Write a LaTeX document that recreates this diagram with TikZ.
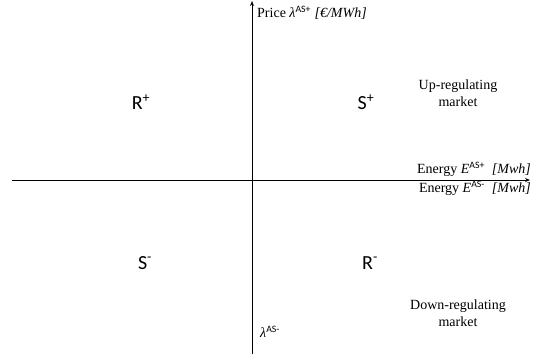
\documentclass[tikz,border=0pt]{standalone}
\usepackage{fontspec}
\setmainfont{Liberation Serif}
\newfontfamily\carl{Carlito}
\usetikzlibrary{arrows.meta}
\tikzset{
  axis/.style={line width=0.9pt,-{Stealth[length=5pt,width=4pt]}},
  quad/.style={font=\carl\fontsize{20}{22}\selectfont,inner sep=0pt},
  lbl/.style={font=\fontsize{14}{16}\selectfont,inner sep=0pt},
  mkt/.style={font=\fontsize{14}{17}\selectfont,align=center,inner sep=0pt}
}
\newcommand{\sps}[1]{\textsuperscript{\carl #1}}
\begin{document}
\begin{tikzpicture}[x=1pt,y=-1pt]
\useasboundingbox (0,0) rectangle (545,360);
\coordinate (vb) at (252,354);
\coordinate (vt) at (252,1);
\coordinate (hl) at (12,180);
\coordinate (hr) at (530,180);
\draw[axis] (vb) -- (vt);
\draw[axis] (hl) -- (hr);
\node[lbl,anchor=west] (price) at (257,13) {Price \textit{λ}\sps{AS+} \textit{[€/MWh]}};
\node[lbl,anchor=east] (eplus) at (531,169) {Energy \textit{E}\sps{AS+} \ \textit{[Mwh]}};
\node[lbl,anchor=east] (eminus) at (531,188) {Energy \textit{E}\sps{AS-} \ \textit{[Mwh]}};
\node[mkt] (up) at (458,93) {Up-regulating\\market};
\node[mkt] (down) at (458,313) {Down-regulating\\market};
\node[quad] (rp) at (141,102) {R\textsuperscript{+}};
\node[quad] (sp) at (366,102) {S\textsuperscript{+}};
\node[quad] (sm) at (145,263) {S\textsuperscript{-}};
\node[quad] (rm) at (370,263) {R\textsuperscript{-}};
\node[lbl,anchor=west] (lm) at (260,332) {\textit{λ}\sps{AS-}};
\end{tikzpicture}
\end{document}
